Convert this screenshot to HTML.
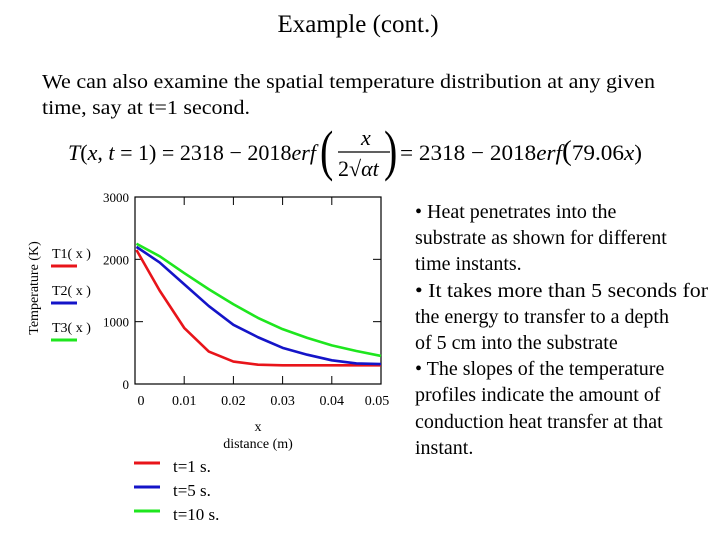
<!DOCTYPE html>
<html><head><meta charset="utf-8"><style>
html,body{margin:0;padding:0;background:#fff}
svg{display:block;font-family:"Liberation Serif",serif}
</style></head><body>
<svg id="c" width="720" height="540" viewBox="0 0 720 540">
<text x="358" y="32" font-size="25" text-anchor="middle">Example (cont.)</text>
<text x="42" y="88" font-size="20" textLength="613" lengthAdjust="spacingAndGlyphs">We can also examine the spatial temperature distribution at any given</text>
<text x="42" y="114" font-size="20" textLength="208" lengthAdjust="spacingAndGlyphs">time, say at t=1 second.</text>
<g font-size="22">
<text x="68" y="160" textLength="248" lengthAdjust="spacingAndGlyphs"><tspan font-style="italic">T</tspan>(<tspan font-style="italic">x</tspan>, <tspan font-style="italic">t</tspan> = 1) = 2318 − 2018<tspan font-style="italic">erf</tspan></text>
<text x="320" y="164" font-size="40" transform="scale(1,1.4)" transform-origin="320 150">(</text>
<text x="361" y="145" font-style="italic">x</text>
<line x1="338" y1="152" x2="390" y2="152" stroke="#000" stroke-width="1.2"/>
<text x="338" y="176">2√<tspan font-style="italic">αt</tspan></text>
<text x="384" y="164" font-size="40" transform="scale(1,1.4)" transform-origin="384 150">)</text>
<text x="400" y="160" textLength="242" lengthAdjust="spacingAndGlyphs">= 2318 − 2018<tspan font-style="italic">erf</tspan><tspan font-size="28">(</tspan>79.06<tspan font-style="italic">x</tspan>)</text>
</g>
<g id="chart"></g>
<g font-size="20">
<text x="415" y="218">• Heat penetrates into the</text>
<text x="415" y="244">substrate as shown for different</text>
<text x="415" y="270">time instants.</text>
<text x="415" y="297" textLength="293" lengthAdjust="spacingAndGlyphs">• It takes more than 5 seconds for</text>
<text x="415" y="323">the energy to transfer to a depth</text>
<text x="415" y="349">of 5 cm into the substrate</text>
<text x="415" y="375">• The slopes of the temperature</text>
<text x="415" y="401">profiles indicate the amount of</text>
<text x="415" y="428">conduction heat transfer at that</text>
<text x="415" y="454">instant.</text>
</g>
</svg>
<script>
const xVals=[0.0003,0.005,0.01,0.015,0.02,0.025,0.03,0.035,0.04,0.045,0.05];
const t1=[2150,1500,900,520,360,310,300,300,300,300,300];
const t2=[2200,1950,1600,1250,950,750,580,470,380,330,320];
const t3=[2250,2050,1780,1520,1280,1060,880,740,620,530,450];
const seriesColors=["#e8141a","#1414c8","#1ee61e"];
const seriesNames=["T1","T2","T3"];
const timeLabels=["t=1 s.","t=5 s.","t=10 s."];
const yTicks=[0,1000,2000,3000];
const xTicks=[0,0.01,0.02,0.03,0.04,0.05];
const xTickLabels=["0","0.01","0.02","0.03","0.04","0.05"];
const NS="http://www.w3.org/2000/svg";
const L=135,R=381,T=197,B=384;
const sx=v=>L+(v-0)/(0.05)*(R-L);
const sy=v=>B-v/3000*(B-T);
const g=document.getElementById('chart');
function mk(tag,attrs,parent){const e=document.createElementNS(NS,tag);for(const k in attrs)e.setAttribute(k,attrs[k]);(parent||g).appendChild(e);return e;}
const frame=mk('rect',{x:L,y:T,width:R-L,height:B-T,fill:'none',stroke:'#000','stroke-width':1.2});


yTicks.forEach(v=>{
 if(v>0&&v<3000){
  const a=mk('line',{x1:L,x2:L+8,y1:sy(v),y2:sy(v),stroke:'#000'});
  
  
  const b=mk('line',{x1:R-8,x2:R,y1:sy(v),y2:sy(v),stroke:'#000'});
  
  
 }
 const t=mk('text',{x:L-6,y:sy(v)+5,'font-size':13,'text-anchor':'end'});
 
 
 t.textContent=String(v);
});
xTicks.forEach((v,i)=>{
 if(v>0&&v<0.05){
  const a=mk('line',{x1:sx(v),x2:sx(v),y1:B,y2:B-8,stroke:'#000'});
  
  
  const b=mk('line',{x1:sx(v),x2:sx(v),y1:T,y2:T+8,stroke:'#000'});
  
  
 }
 const t=mk('text',{x:sx(v)+(i==0?6:i==5?-4:0),y:B+21,'font-size':14,'text-anchor':'middle'});
 
 
 t.textContent=xTickLabels[i];
});
[t1,t2,t3].forEach((s,k)=>{
 const p=mk('polyline',{points:s.map((v,i)=>sx(xVals[i])+','+sy(v)).join(' '),fill:'none',stroke:seriesColors[k],'stroke-width':2.6,'stroke-linejoin':'round'});
 
 
 const lt=mk('text',{x:52,y:258+k*37,'font-size':14});
 
 
 lt.textContent=seriesNames[k]+"( x )";
 const ll=mk('line',{x1:51,x2:77,y1:266+k*37,y2:266+k*37,stroke:seriesColors[k],'stroke-width':3});
 
 
 const bl=mk('line',{x1:134,x2:160,y1:463+k*24,y2:463+k*24,stroke:seriesColors[k],'stroke-width':3});
 
 
 const bt=mk('text',{x:173,y:472+k*24,'font-size':17});
 
 
 bt.textContent=timeLabels[k];
});
const yt=mk('text',{x:0,y:0,'font-size':14,'text-anchor':'middle',transform:'translate(38,288) rotate(-90)'});


yt.textContent='Temperature (K)';
const xv=mk('text',{x:258,y:431,'font-size':14,'text-anchor':'middle'});


xv.textContent='x';
const xt=mk('text',{x:258,y:448,'font-size':14,'text-anchor':'middle'});


xt.textContent='distance (m)';
</script>
</body></html>
